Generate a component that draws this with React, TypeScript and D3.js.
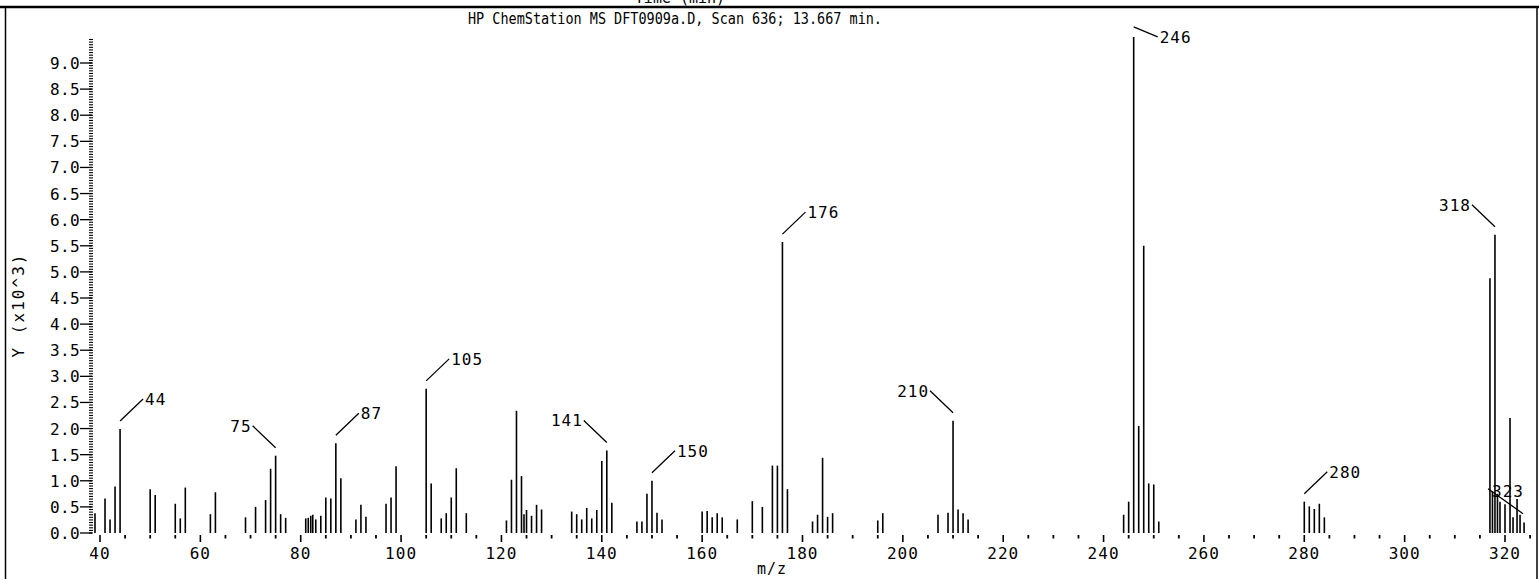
import React from "react";
import * as d3 from "d3";

const W = 1539;
const H = 579;

const TITLE = "HP ChemStation MS DFT0909a.D, Scan 636; 13.667 min.";
const TOP_CAPTION = "Time (min)";
const X_LABEL = "m/z";
const Y_LABEL = "Y (x10^3)";

// m/z of each line in the spectrum
const mzValues = [
  39, 41, 42, 43, 44, 50, 51, 55, 56, 57, 62, 63, 69, 71, 73, 74, 75, 76, 77,
  81, 81.5, 82, 82.4, 83, 84, 85, 86, 87, 88,
  91, 92, 93, 97, 98, 99, 105, 106, 108, 109, 110, 111, 113,
  121, 122, 123, 124, 124.5, 125, 126, 127, 128,
  134, 135, 136, 137, 138, 139, 140, 141, 142,
  147, 148, 149, 150, 151, 152,
  160, 161, 162, 163, 164, 167, 170, 172, 174, 175, 176, 177,
  182, 183, 184, 185, 186, 195, 196,
  207, 209, 210, 211, 212, 213,
  244, 245, 246, 247, 248, 249, 250, 251,
  280, 281, 282, 283, 284,
  317, 317.5, 318, 318.5, 319, 320, 321, 321.6, 322.4, 323, 323.8,
];

// abundance (x10^3) of each line, same order as mzValues
const abundance = [
  0.38, 0.66, 0.26, 0.89, 1.99, 0.84, 0.73, 0.56, 0.28, 0.87, 0.36, 0.78, 0.30, 0.50, 0.63, 1.23, 1.48, 0.36, 0.29,
  0.28, 0.29, 0.33, 0.35, 0.26, 0.33, 0.68, 0.66, 1.72, 1.05,
  0.26, 0.54, 0.31, 0.56, 0.68, 1.28, 2.76, 0.95, 0.28, 0.38, 0.68, 1.24, 0.38,
  0.24, 1.02, 2.34, 1.09, 0.36, 0.44, 0.33, 0.54, 0.45,
  0.41, 0.36, 0.26, 0.48, 0.28, 0.44, 1.38, 1.58, 0.58,
  0.22, 0.22, 0.75, 1.0, 0.39, 0.26,
  0.41, 0.42, 0.30, 0.38, 0.30, 0.26, 0.61, 0.50, 1.29, 1.29, 5.57, 0.84,
  0.22, 0.35, 1.44, 0.31, 0.38, 0.24, 0.38,
  0.35, 0.39, 2.15, 0.45, 0.38, 0.26,
  0.35, 0.6, 9.5, 2.05, 5.5, 0.95, 0.93, 0.22,
  0.60, 0.51, 0.46, 0.56, 0.30,
  4.88, 0.8, 5.71, 0.75, 0.6, 0.55, 2.2, 0.3, 0.65, 0.35, 0.2,
];

// annotated peaks and the side their label sits on
const labelledMz = [44, 75, 87, 105, 141, 150, 176, 210, 246, 280, 318, 323];
const labelSide = ["ur", "ul", "ur", "ur", "ul", "ur", "ur", "ul", "dr", "ur", "ul", "over"];

const xMajorTicks = d3.range(40, 321, 20);
const xMinorTicks = d3.range(40, 326, 5).filter((v) => v % 20 !== 0);
const yMajorTicks = d3.range(0, 9.01, 0.5);
const yMinorTicks = d3.range(0, 9.46, 0.05);

const FONT = "'DejaVu Sans Mono', monospace";

export default function App() {
  const x = d3.scaleLinear().domain([40, 320]).range([100, 1505]);
  const y = d3.scaleLinear().domain([0, 9]).range([533, 63]);
  const base = y(0);

  const peaks = mzValues.map((mz, i) => ({ mz, v: abundance[i] }));

  const labels = labelledMz.map((mz, i) => {
    const p = peaks.find((q) => q.mz === mz)!;
    const px = x(mz);
    const top = y(p.v);
    const side = labelSide[i];
    let l: { x1: number; y1: number; x2: number; y2: number; tx: number; ty: number; anchor: string };
    if (side === "ur") {
      l = { x1: px, y1: top - 8, x2: px + 23, y2: top - 30, tx: px + 25, ty: top - 30, anchor: "start" };
    } else if (side === "ul") {
      l = { x1: px, y1: top - 8, x2: px - 23, y2: top - 30, tx: px - 24, ty: top - 30, anchor: "end" };
    } else if (side === "dr") {
      l = { x1: px, y1: top - 10, x2: px + 24, y2: top, tx: px + 26, ty: top, anchor: "start" };
    } else {
      l = { x1: px + 3, y1: top - 1, x2: px - 32, y2: top - 26, tx: px - 28, ty: top - 24, anchor: "start" };
    }
    return { mz, ...l };
  });

  return (
    <svg
      width={W}
      height={H}
      viewBox={`0 0 ${W} ${H}`}
      style={{ position: "absolute", left: 0, top: 0, background: "#fff", display: "block" }}
    >
      <rect x={0} y={0} width={W} height={H} fill="#fff" />
      {/* frame */}
      <text x={680} y={3} fontFamily={FONT} fontSize={15} textAnchor="middle" fill="#000">
        {TOP_CAPTION}
      </text>
      <line x1={0} x2={W} y1={7} y2={7} stroke="#000" strokeWidth={2.5} />
      <line x1={5.5} x2={5.5} y1={7} y2={H} stroke="#000" strokeWidth={1.5} />
      <line x1={1537} x2={1537} y1={7} y2={H} stroke="#000" strokeWidth={1.5} />

      {/* title */}
      <text
        x={675}
        y={24}
        fontFamily={FONT}
        fontSize={15}
        textAnchor="middle"
        textLength={414}
        lengthAdjust="spacingAndGlyphs"
        fill="#000"
      >
        {TITLE}
      </text>

      {/* y axis */}
      {yMinorTicks.map((t, i) => (
        <line key={"ym" + i} x1={89} x2={93} y1={y(t)} y2={y(t)} stroke="#000" strokeWidth={1.1} />
      ))}
      {yMajorTicks.map((t, i) => (
        <g key={"yM" + i}>
          <line x1={80} x2={92} y1={y(t)} y2={y(t)} stroke="#000" strokeWidth={1.3} />
          <text
            x={80}
            y={y(t) + 6}
            fontFamily={FONT}
            fontSize={16}
            textAnchor="end"
            letterSpacing={0.4}
            fill="#000"
          >
            {t.toFixed(1)}
          </text>
        </g>
      ))}
      <text
        transform={`translate(24, 306) rotate(-90)`}
        fontFamily={FONT}
        fontSize={16}
        textAnchor="middle"
        textLength={103}
        lengthAdjust="spacing"
        fill="#000"
      >
        {Y_LABEL}
      </text>

      {/* x axis ticks */}
      {xMinorTicks.map((t, i) => (
        <line key={"xm" + i} x1={x(t)} x2={x(t)} y1={535} y2={538.5} stroke="#000" strokeWidth={1.8} />
      ))}
      {xMajorTicks.map((t, i) => (
        <g key={"xM" + i}>
          <line x1={x(t)} x2={x(t)} y1={535} y2={542} stroke="#000" strokeWidth={1.6} />
          <text
            x={x(t)}
            y={559}
            fontFamily={FONT}
            fontSize={16}
            textAnchor="middle"
            letterSpacing={1}
            fill="#000"
          >
            {t}
          </text>
        </g>
      ))}
      <text x={772} y={574} fontFamily={FONT} fontSize={15} textAnchor="middle" letterSpacing={1} fill="#000">
        {X_LABEL}
      </text>

      {/* spectrum lines */}
      {peaks.map((p, i) => (
        <line
          key={"p" + i}
          x1={x(p.mz)}
          x2={x(p.mz)}
          y1={base}
          y2={y(p.v)}
          stroke="#000"
          strokeWidth={1.6}
        />
      ))}

      {/* peak annotations */}
      {labels.map((l, i) => (
        <g key={"l" + i}>
          <line x1={l.x1} y1={l.y1} x2={l.x2} y2={l.y2} stroke="#000" strokeWidth={1.3} />
          <text
            x={l.tx}
            y={l.ty + 6}
            fontFamily={FONT}
            fontSize={16}
            textAnchor={l.anchor}
            letterSpacing={1}
            fill="#000"
          >
            {l.mz}
          </text>
        </g>
      ))}
    </svg>
  );
}
